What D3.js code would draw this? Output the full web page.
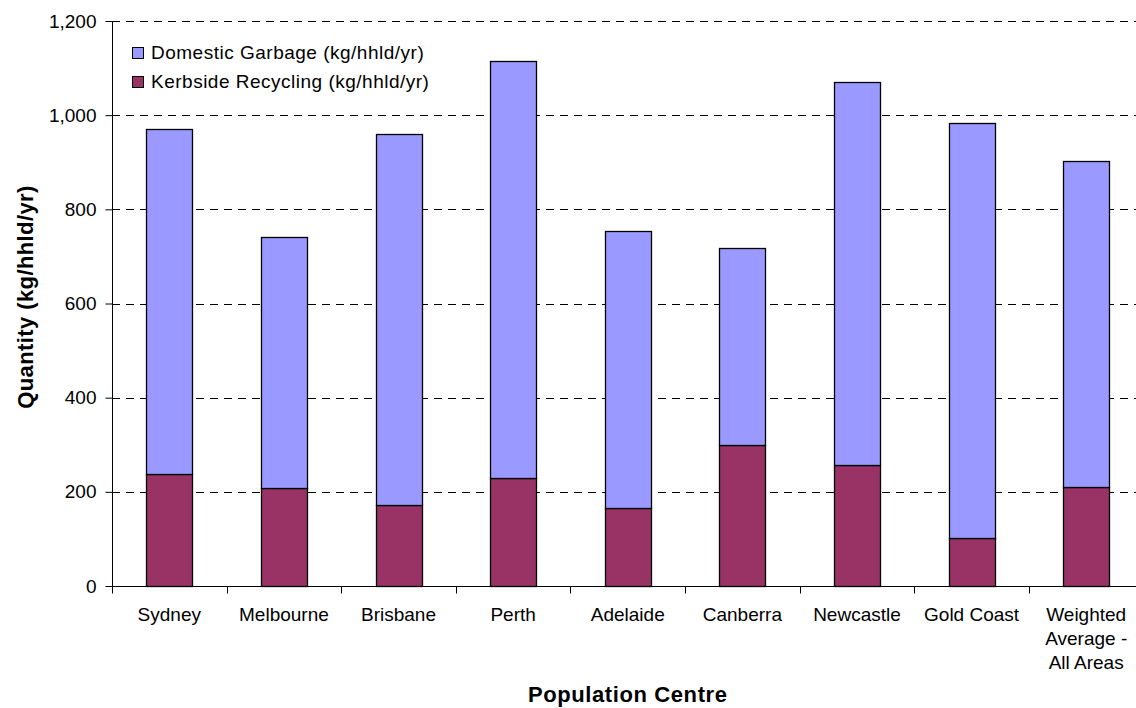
<!DOCTYPE html>
<html>
<head>
<meta charset="utf-8">
<script src="https://cdn.jsdelivr.net/npm/d3@7"></script>
<style>
  html, body { margin: 0; padding: 0; background: #fff; }
  svg { display: block; font-family: "Liberation Sans", Arial, sans-serif; }
</style>
</head>
<body>
<svg id="chart" width="1136" height="708"></svg>
<script>
// Household waste per population centre (kg per household per year)
const centres = ["Sydney", "Melbourne", "Brisbane", "Perth", "Adelaide", "Canberra", "Newcastle", "Gold Coast", "Weighted Average - All Areas"];
const centreLines = [["Sydney"], ["Melbourne"], ["Brisbane"], ["Perth"], ["Adelaide"], ["Canberra"], ["Newcastle"], ["Gold Coast"], ["Weighted", "Average -", "All Areas"]];
const recycling = [237, 208, 171, 229, 166, 299, 257, 103, 210];
const totals = [970, 742, 961, 1114, 754, 717, 1070, 983, 903];
const garbage = totals.map((t, i) => t - recycling[i]);
const yTicks = [0, 200, 400, 600, 800, 1000, 1200];
const seriesNames = ["Domestic Garbage (kg/hhld/yr)", "Kerbside Recycling (kg/hhld/yr)"];
const seriesColors = ["#9999FF", "#993366"];

const svg = d3.select("#chart");
const plotLeft = 112, plotRight = 1143.5, plotTop = 21, plotBottom = 586;

const x = d3.scaleBand().domain(centres).range([plotLeft, plotRight]).paddingInner(0.6).paddingOuter(0.3);
const xEdges = d3.scaleLinear().domain([0, centres.length]).range([plotLeft, plotRight]);
const y = d3.scaleLinear().domain([0, 1200]).range([plotBottom, plotTop]);

// dashed horizontal gridlines
svg.append("g")
  .selectAll("line")
  .data(yTicks.filter(d => d > 0))
  .join("line")
  .attr("x1", plotLeft).attr("x2", plotRight)
  .attr("y1", d => Math.round(y(d)) + 0.5).attr("y2", d => Math.round(y(d)) + 0.5)
  .attr("stroke", "#000").attr("stroke-width", 1)
  .attr("stroke-dasharray", "8,6");

// stacked bars: recycling at the base, garbage on top
const rows = centres.map((c, i) => ({ c, rec: recycling[i], gar: garbage[i] }));
const stack = d3.stack().keys(["rec", "gar"]);
const stacked = stack(rows);
const colorOf = { gar: seriesColors[0], rec: seriesColors[1] };

svg.append("g")
  .selectAll("g")
  .data(stacked)
  .join("g")
  .attr("fill", d => colorOf[d.key])
  .selectAll("rect")
  .data(d => d)
  .join("rect")
  .attr("x", d => Math.round(x(d.data.c)) + 0.5)
  .attr("width", Math.round(x.bandwidth()))
  .attr("y", d => Math.round(y(d[1])) + 0.5)
  .attr("height", d => Math.round(y(d[0])) - Math.round(y(d[1])))
  .attr("stroke", "#000").attr("stroke-width", 1.3);

// y axis
const yAxis = d3.axisLeft(y).tickValues(yTicks).tickSize(7).tickPadding(9)
  .tickFormat(d3.format(","));
const gy = svg.append("g").attr("transform", `translate(${plotLeft + 0.5},0)`).call(yAxis);
gy.select(".domain").attr("stroke", "#000").attr("d", `M0,${plotTop}V${plotBottom + 0.5}`);
gy.selectAll(".tick line").attr("stroke", "#000");
gy.selectAll(".tick text").attr("font-size", 19).attr("fill", "#000")
  .attr("font-family", "Liberation Sans, Arial, sans-serif");

// x axis: tick marks at category boundaries
const gx = svg.append("g").attr("transform", `translate(0,${plotBottom + 0.5})`);
gx.append("line").attr("x1", plotLeft).attr("x2", plotRight).attr("stroke", "#000");
gx.selectAll(".edge")
  .data(d3.range(centres.length + 1))
  .join("line")
  .attr("class", "edge")
  .attr("x1", d => Math.round(xEdges(d)) + 0.5).attr("x2", d => Math.round(xEdges(d)) + 0.5)
  .attr("y1", 0).attr("y2", 7)
  .attr("stroke", "#000");

// category labels
const lbl = svg.append("g").attr("font-size", 19).attr("fill", "#000").attr("text-anchor", "middle");
centres.forEach((c, i) => {
  const cx = x(c) + x.bandwidth() / 2;
  const t = lbl.append("text").attr("x", cx).attr("y", 621);
  centreLines[i].forEach((ln, k) => {
    t.append("tspan").attr("x", cx).attr("dy", k === 0 ? 0 : 24).text(ln);
  });
});

// axis titles
svg.append("text")
  .attr("x", (plotLeft + plotRight) / 2).attr("y", 702)
  .attr("text-anchor", "middle").attr("font-size", 22).attr("font-weight", "bold")
  .attr("letter-spacing", 0.6)
  .text("Population Centre");
svg.append("text")
  .attr("transform", "translate(33,297) rotate(-90)")
  .attr("text-anchor", "middle").attr("font-size", 22).attr("font-weight", "bold")
  .attr("letter-spacing", 0.4)
  .text("Quantity (kg/hhld/yr)");

// legend
const legend = svg.append("g");
seriesNames.forEach((name, i) => {
  const ly = 47 + i * 29;
  legend.append("rect")
    .attr("x", 132.5).attr("y", ly + 0.5).attr("width", 11).attr("height", 11)
    .attr("fill", seriesColors[i]).attr("stroke", "#000");
  legend.append("text")
    .attr("x", 151).attr("y", ly + 12)
    .attr("font-size", 19).attr("letter-spacing", 0.5).attr("fill", "#000")
    .text(name);
});
</script>
</body>
</html>
